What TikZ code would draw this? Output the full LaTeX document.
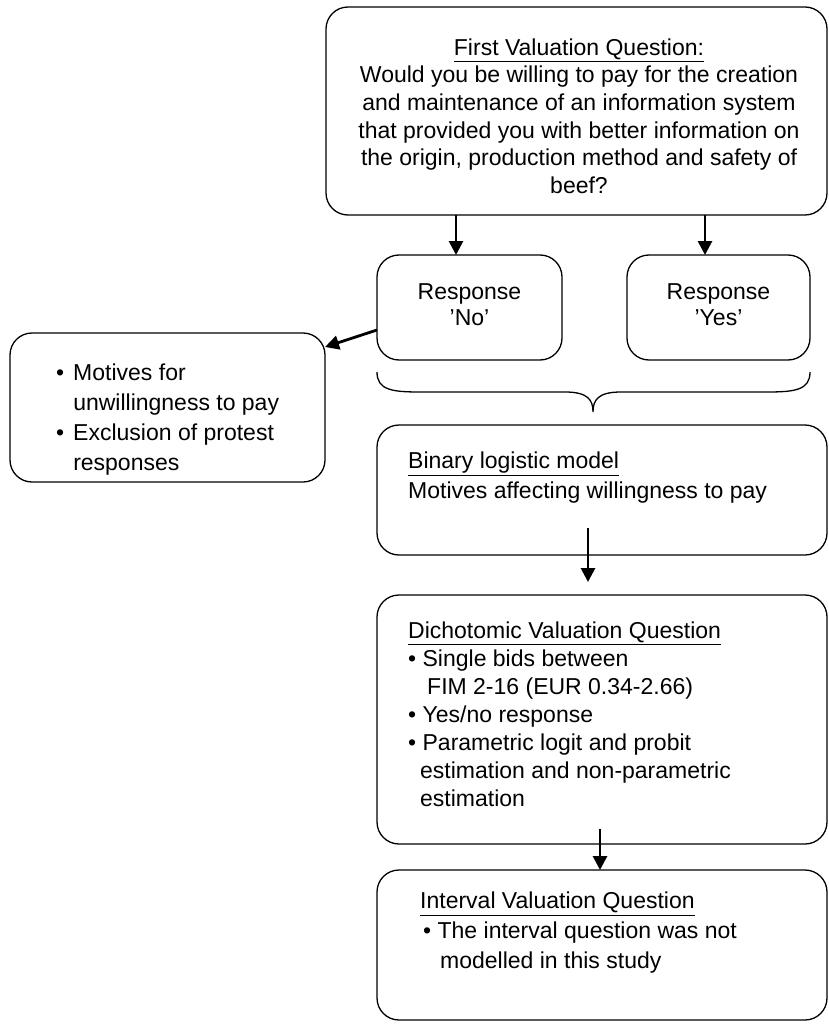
\documentclass[tikz,border=0pt]{standalone}
\usepackage{fontspec}
\setmainfont{Liberation Sans}
\usetikzlibrary{arrows.meta}
\begin{document}
\begin{tikzpicture}[x=1pt,y=-1pt,
 box/.style={draw, line width=1.3pt, rounded corners=22pt, inner sep=0pt, outer sep=0pt, anchor=north west},
 arr/.style={line width=2.8pt, -{Triangle[length=14pt,width=14pt]}},
 txt/.style={inner sep=0pt, font=\fontsize{23}{28}\selectfont},
]
\useasboundingbox (0,0) rectangle (828,1024);
\clip (0,0) rectangle (828,1024);
% boxes
\node[box, minimum width=501pt, minimum height=208pt] (top) at (326,7) {};
\node[box, minimum width=185pt, minimum height=105pt] (no) at (377,255) {};
\node[box, minimum width=183pt, minimum height=105pt] (yes) at (627,255) {};
\node[box, minimum width=315pt, minimum height=149pt] (left) at (10,333) {};
\node[box, minimum width=450pt, minimum height=130pt] (bin) at (377,425) {};
\node[box, minimum width=450pt, minimum height=249pt] (dich) at (377,595) {};
\node[box, minimum width=450pt, minimum height=150pt] (intv) at (377,870) {};
% texts
\node[txt, align=center, font=\fontsize{23}{27.6}\selectfont] (toptxt) at (579,116) {\underline{First Valuation Question:}\\
Would you be willing to pay for the creation\\
and maintenance of an information system\\
that provided you with better information on\\
the origin, production method and safety of\\
beef?};
\node[txt, align=center, font=\fontsize{23}{26}\selectfont] (notxt) at (469.5,305) {Response\\'No'};
\node[txt, align=center, font=\fontsize{23}{26}\selectfont] (yestxt) at (718.5,305) {Response\\'Yes'};
\node[txt, anchor=west] (lefttxt) at (56,419.5) {\fontsize{23}{30}\selectfont
\begin{tabular}{@{}l@{\hspace{9pt}}l@{}}
• & Motives for\\
  & unwillingness to pay\\
• & Exclusion of protest\\
  & responses
\end{tabular}};
\node[txt, anchor=west, align=left, font=\fontsize{23}{30}\selectfont] (bintxt) at (408,478) {\underline{Binary logistic model}\\
Motives affecting willingness to pay};
\node[txt, anchor=west, align=left, font=\fontsize{23}{28}\selectfont] (dichtxt) at (408,714) {\underline{Dichotomic Valuation Question}\\
• Single bids between\\
\hspace{19pt}FIM 2-16 (EUR 0.34-2.66)\\
• Yes/no response\\
• Parametric logit and probit\\
\hspace{12pt}estimation and non-parametric\\
\hspace{12pt}estimation};
\node[txt, anchor=west, align=left, font=\fontsize{23}{30}\selectfont] (intvtxt) at (420,933) {\underline{Interval Valuation Question}\\
\hspace{3pt}• The interval question was not\\
\hspace{20pt}modelled in this study};
% arrows
\draw[arr] ([xshift=-13.5pt]top.south -| no.north) -- ([xshift=-13.5pt]no.north);
\draw[arr] ([xshift=-13.5pt]top.south -| yes.north) -- ([xshift=-13.5pt]yes.north);
\draw[arr] ([yshift=-22.5pt]no.west) -- ([yshift=-14pt]left.north east);
\draw[arr] ([xshift=-14pt,yshift=27pt]bin.south) -- ([xshift=-14pt,yshift=13pt]dich.north);
\draw[arr] ([xshift=-2pt,yshift=15pt]dich.south) -- ([xshift=-2pt]intv.north);
% brace
\draw[line width=1.3pt] (377,372) .. controls (377,390) and (392,392) .. (420,392)
  -- (565,392) .. controls (588,392) and (593,400) .. (593,412)
  .. controls (593,400) and (598,392) .. (621,392) -- (767,392)
  .. controls (795,392) and (810,390) .. (810,372);
\end{tikzpicture}
\end{document}
